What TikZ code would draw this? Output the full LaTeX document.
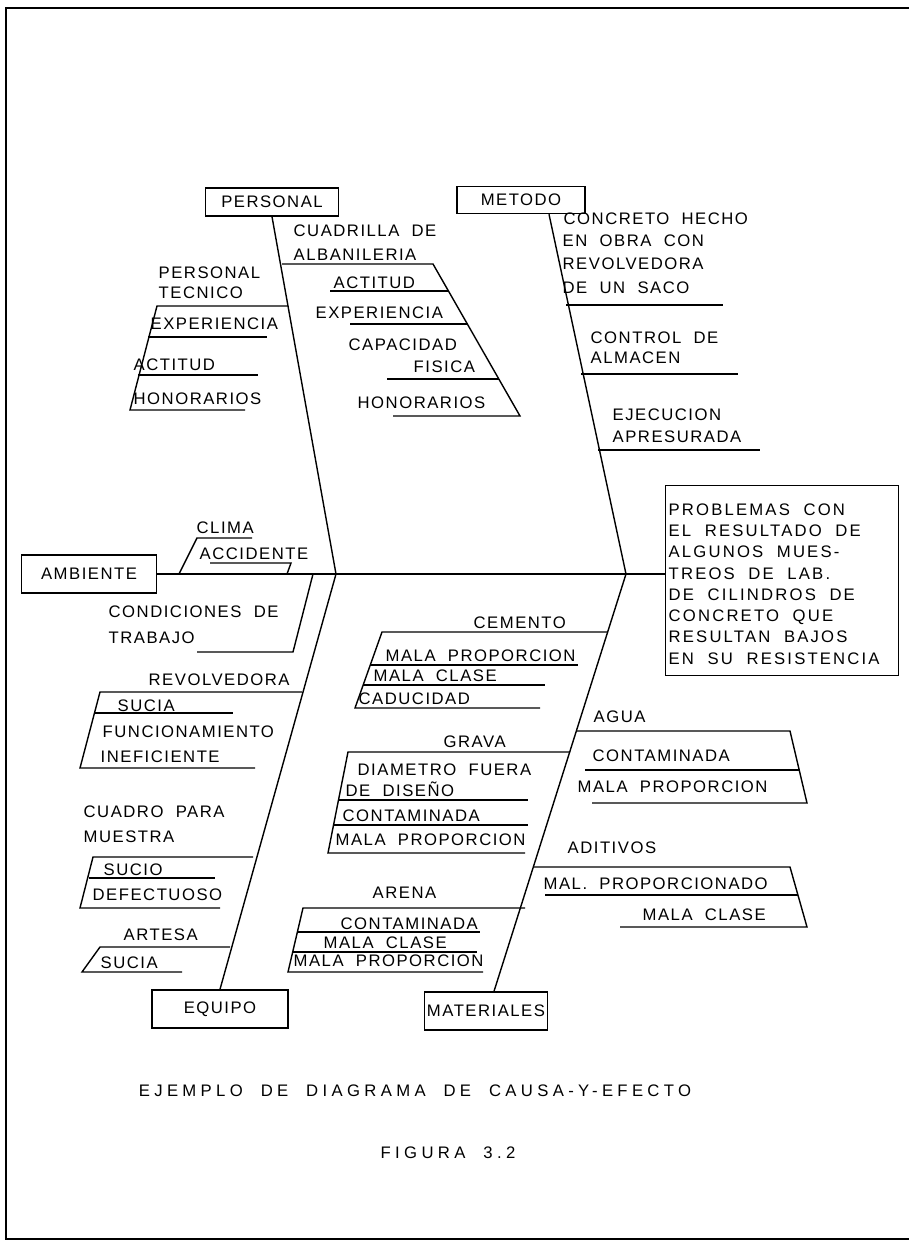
\documentclass[tikz,border=0pt]{standalone}
\usepackage{fontspec}
\setmainfont{Liberation Sans}[LetterSpace=9,WordSpace=2]
\newfontfamily\titulofont{Liberation Sans}[LetterSpace=26,WordSpace=2]
\newfontfamily\efectofont{Liberation Sans}[LetterSpace=13,WordSpace=2]
\usetikzlibrary{calc}

\tikzstyle{causa}=[draw,inner sep=0pt,font=\fontsize{9.5}{11}\selectfont]
\tikzstyle{texto}=[anchor=west,inner sep=0pt,text height=6.8pt,text depth=0pt,font=\fontsize{9.5}{11}\selectfont]
\tikzstyle{efecto}=[draw,anchor=north west,minimum width=4.66cm,minimum height=3.8cm]
\tikzstyle{efecto texto}=[anchor=north west,align=left,inner sep=0pt,font=\efectofont\fontsize{9.5}{12.1}\selectfont]
\tikzstyle{titulo}=[inner sep=0pt,font=\titulofont\fontsize{9.5}{11}\selectfont]

\begin{document}
\begin{tikzpicture}[x=0.02cm,y=-0.02cm,line width=0.8pt]
\useasboundingbox (0,0) rectangle (909,1242);
% marco
\draw[line width=1.4pt] (909,8) -- (6,8) -- (6,1239) -- (909,1239);

% causas y efecto
\node[causa,minimum width=2.66cm,minimum height=0.56cm] (personal) at (272,202) {PERSONAL};
\node[causa,minimum width=2.56cm,minimum height=0.54cm] (metodo) at (521,200) {METODO};
\node[causa,minimum width=2.7cm,minimum height=0.76cm] (ambiente) at (89,574) {AMBIENTE};
\node[causa,minimum width=2.72cm,minimum height=0.76cm] (equipo) at (220,1009) {EQUIPO};
\node[causa,minimum width=2.46cm,minimum height=0.76cm] (materiales) at (486,1011) {MATERIALES};
\node[efecto] (efecto) at (665,485) {};
\node[efecto texto] (problema) at (668,503) {PROBLEMAS CON\\EL RESULTADO DE\\ALGUNOS MUES-\\TREOS DE LAB.\\DE CILINDROS DE\\CONCRETO QUE\\RESULTAN BAJOS\\EN SU RESISTENCIA};

\coordinate (sp1) at (336,574);
\coordinate (sp2) at (626,574);

% espinas
\draw (ambiente.east) -- (efecto.west |- ambiente.east);
\draw (personal.south) -- (sp1) -- (equipo.north);
\draw ($(metodo.south)+(28,0)$) -- (sp2) -- ($(materiales.north)+(8,0)$);

% personal
\draw (288,306) -- (157,306) -- (130,410) -- (245,410);
\draw (148,337) -- (267,337);
\draw (138,375) -- (258,375);
\draw (282,264) -- (433,264) -- (520,416) -- (393,416);
\draw (330,291) -- (449,291);
\draw (350,324) -- (468,324);
\draw (387,379) -- (499,379);
% metodo
\draw (566,305) -- (723,305);
\draw (581,374) -- (738,374);
\draw (598,450) -- (760,450);
% ambiente
\draw (179,574) -- (197,538) -- (252,538);
\draw (287,574) -- (291,563) -- (210,563);
\draw (313,574) -- (293,652) -- (197,652);
% equipo
\draw (302,692) -- (100,692) -- (80,768) -- (255,768);
\draw (95,713) -- (233,713);
\draw (253,857) -- (93,857) -- (80,908) -- (220,908);
\draw (89,878) -- (215,878);
\draw (230,947) -- (100,947) -- (82,972) -- (182,972);
% materiales
\draw (608,632) -- (382,632) -- (355,708) -- (540,708);
\draw (370,665) -- (578,665);
\draw (363,685) -- (545,685);
\draw (570,752) -- (348,752) -- (328,853) -- (525,853);
\draw (339,800) -- (528,800);
\draw (334,825) -- (528,825);
\draw (525,908) -- (303,908) -- (288,972) -- (483,972);
\draw (297,932) -- (480,932);
\draw (293,952) -- (477,952);
\draw (576,731) -- (790,731) -- (807,803) -- (592,803);
\draw (585,770) -- (799,770);
\draw (533,867) -- (790,867) -- (807,927) -- (620,927);
\draw (545,895) -- (798,895);

\foreach \pos/\txt [count=\i] in {{(158,273)/PERSONAL}, {(158,293)/TECNICO},
    {(150,324)/EXPERIENCIA}, {(133,365)/ACTITUD}, {(133,399)/HONORARIOS},
    {(293,231)/CUADRILLA DE}, {(293,255)/ALBANILERIA}, {(333,283)/ACTITUD},
    {(315,313)/EXPERIENCIA}, {(348,345)/CAPACIDAD}, {(413,367)/FISICA},
    {(357,403)/HONORARIOS},
    {(563,219)/CONCRETO HECHO}, {(562,241)/EN OBRA CON}, {(562,264)/REVOLVEDORA},
    {(562,288)/DE UN SACO}, {(590,338)/CONTROL DE}, {(590,358)/ALMACEN},
    {(612,415)/EJECUCION}, {(612,437)/APRESURADA},
    {(196,528)/CLIMA}, {(199,554)/ACCIDENTE}, {(108,612)/CONDICIONES DE},
    {(108,638)/TRABAJO},
    {(148,680)/REVOLVEDORA}, {(117,706)/SUCIA}, {(102,732)/FUNCIONAMIENTO},
    {(100,757)/INEFICIENTE}, {(83,812)/CUADRO PARA}, {(83,837)/MUESTRA},
    {(103,870)/SUCIO}, {(92,895)/DEFECTUOSO}, {(123,935)/ARTESA}, {(100,963)/SUCIA},
    {(473,623)/CEMENTO}, {(385,656)/MALA PROPORCION}, {(373,676)/MALA CLASE},
    {(358,699)/CADUCIDAD}, {(443,742)/GRAVA}, {(357,770)/DIAMETRO FUERA},
    {(345,791)/DE DISEÑO}, {(342,816)/CONTAMINADA}, {(335,840)/MALA PROPORCION},
    {(372,893)/ARENA}, {(340,924)/CONTAMINADA}, {(323,943)/MALA CLASE},
    {(293,961)/MALA PROPORCION}, {(593,717)/AGUA}, {(592,756)/CONTAMINADA},
    {(577,787)/MALA PROPORCION}, {(567,848)/ADITIVOS},
    {(543,884)/MAL. PROPORCIONADO}, {(642,915)/MALA CLASE}}{
  \node[texto] (t\i) at \pos {\txt};
}

\node[titulo] (titulo) at (415,1091) {EJEMPLO DE DIAGRAMA DE CAUSA-Y-EFECTO};
\node[titulo] (figura) at (448,1153) {FIGURA 3.2};
\end{tikzpicture}
\end{document}
